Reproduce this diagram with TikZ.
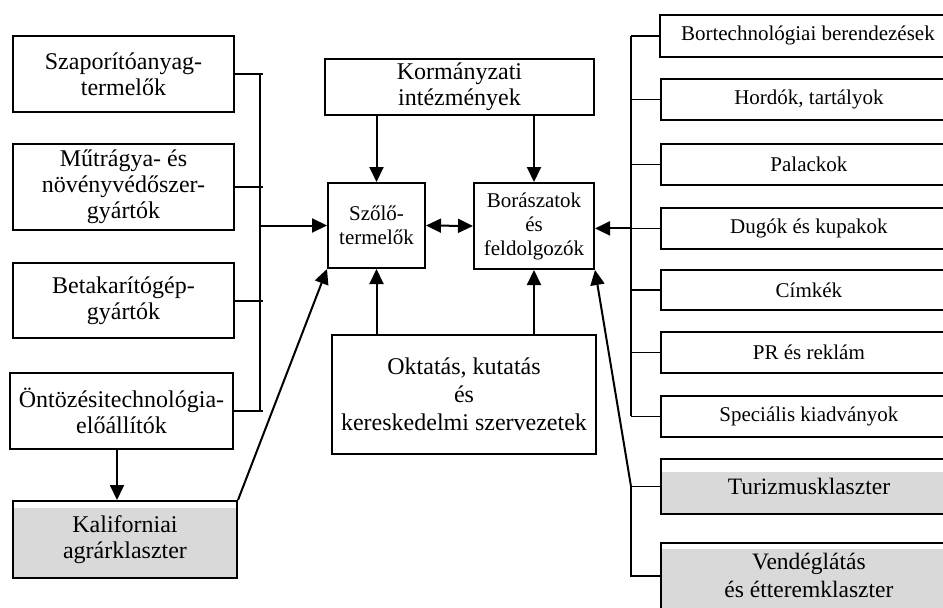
\documentclass[tikz,border=0pt]{standalone}
\usepackage{fontspec}
\setmainfont{Liberation Serif}
\usetikzlibrary{arrows.meta}
\begin{document}
\begin{tikzpicture}[x=1pt,y=-1pt,
 box/.style={draw, line width=2pt, inner sep=0pt, align=center, font=\fontsize{24}{26}\selectfont, anchor=north west},
 sbox/.style={box, font=\fontsize{21}{24}\selectfont},
 rbox/.style={draw, line width=1.8pt, inner sep=0pt, align=center, font=\fontsize{21}{24}\selectfont, anchor=north west, minimum width=296pt},
 graybox/.style={fill=gray!30, path picture={\fill[white] (path picture bounding box.north west) rectangle ([yshift=-#1]path picture bounding box.north east);}},
 arr/.style={line width=2pt, -{Triangle[length=15pt,width=14pt]}},
 dbl/.style={line width=2pt, {Triangle[length=15pt,width=14pt]}-{Triangle[length=15pt,width=14pt]}},
 ln/.style={line width=2pt},
 bus/.style={line width=1.4pt},
]
\useasboundingbox (0,0) rectangle (943,608);
\clip (0,0) rectangle (943,608);

% left column
\node[box, minimum width=221pt, minimum height=76pt] (sz) at (12,35) {Szaporítóanyag-\\termelők};
\node[box, minimum width=221pt, minimum height=86pt] (mu) at (12,143) {Műtrágya- és\\növényvédőszer-\\gyártók};
\node[box, minimum width=221pt, minimum height=75pt] (be) at (12,262) {Betakarítógép-\\gyártók};
\node[box, minimum width=223pt, minimum height=76pt] (on) at (9,372) {Öntözésitechnológia-\\előállítók};
\node[box, graybox=7pt, minimum width=224pt, minimum height=77pt] (ka) at (12,500) {Kaliforniai\\agrárklaszter};

% middle
\node[box, minimum width=269pt, minimum height=56pt] (ko) at (324,58) {Kormányzati\\intézmények};
\node[sbox, minimum width=97pt, minimum height=85pt] (szo) at (327,182) {Szőlő-\\termelők};
\node[sbox, minimum width=120pt, minimum height=86pt] (bo) at (473,182) {Borászatok\\és\\feldolgozók};
\node[box, font=\fontsize{24}{28}\selectfont, minimum width=264pt, minimum height=119pt] (ok) at (331,334) {Oktatás, kutatás\\és\\kereskedelmi szervezetek};

% right column
\node[rbox, minimum height=42pt] (r1) at (659,14) {Bortechnológiai berendezések};
\node[rbox, minimum height=41pt] (r2) at (660,78) {Hordók, tartályok};
\node[rbox, minimum height=41pt] (r3) at (660,143) {Palackok};
\node[rbox, minimum height=41pt] (r4) at (660,207) {Dugók és kupakok};
\node[rbox, minimum height=40pt] (r5) at (660,269) {Címkék};
\node[rbox, minimum height=41pt] (r6) at (660,331) {PR és reklám};
\node[rbox, minimum height=41pt] (r7) at (660,395) {Speciális kiadványok};
\node[rbox, graybox=13pt, font=\fontsize{23.5}{26}\selectfont, minimum height=55pt] (tu) at (660,458) {Turizmusklaszter};
\node[rbox, graybox=6pt, font=\fontsize{23.5}{28}\selectfont, minimum height=66pt] (ve) at (660,542) {Vendéglátás\\és étteremklaszter};

% bus coordinates
\coordinate (lbx) at (260,0);
\coordinate (rbx) at (631,0);
\coordinate (kx) at (117,0);

% left bus
\foreach \n in {sz,mu,be,on} \draw[ln] (\n.east) -- ([xshift=3pt]\n.east -| lbx);
\draw[ln] (sz.east -| lbx) -- (on.east -| lbx);
\draw[arr] (lbx |- szo.west) -- (szo.west);
\draw[arr] (on.south -| kx) -- (ka.north -| kx);
\draw[arr] (ka.north east) -- (szo.south west);

% middle arrows
\draw[arr] (ko.south -| szo.north) -- (szo.north);
\draw[arr] (ko.south -| bo.north) -- (bo.north);
\draw[arr] (ok.north -| szo.south) -- (szo.south);
\draw[arr] (ok.north -| bo.south) -- (bo.south);
\draw[dbl] (szo.east) -- (bo.west);

% right bus
\foreach \n in {r1,r2,r3,r4,r5,r6,r7} \draw[bus] (\n.west) -- (\n.west -| rbx);
\draw[bus] (r1.west -| rbx) -- (r7.west -| rbx);
\draw[arr] (r4.west -| rbx) -- (r4.west -| bo.east);

% lower right
\draw[bus] (tu.west) -- (tu.west -| rbx) -- (ve.west -| rbx) -- (ve.west);
\draw[arr] (tu.west -| rbx) -- (bo.south east);
\end{tikzpicture}
\end{document}
